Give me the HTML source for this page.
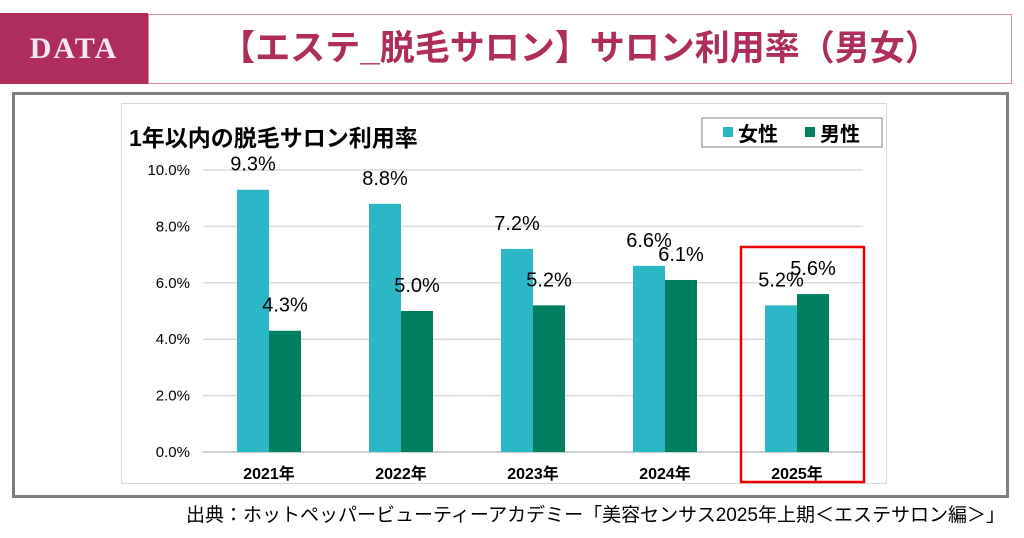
<!DOCTYPE html>
<html><head><meta charset="utf-8"><style>
body{margin:0;width:1024px;height:538px;background:#fff;position:relative;overflow:hidden;font-family:"Liberation Sans","Noto Sans CJK JP",sans-serif}
.abs{position:absolute}
</style></head><body>
<div class="abs" style="left:0;top:13px;width:148px;height:71px;background:#ae2d5c;color:#f6e8ee;font-family:'Liberation Serif',serif;font-size:30px;font-weight:bold;letter-spacing:2px;line-height:71px;text-align:center">DATA</div>
<div class="abs" style="left:148px;top:14px;width:864px;height:70px;border:1px solid #d98aa6;box-sizing:border-box;color:#ae2d5c;font-size:35px;font-weight:bold;line-height:68px;text-align:center">【エステ_脱毛サロン】サロン利用率（男女）</div>
<div class="abs" style="left:12px;top:92px;width:997px;height:406px;border:3px solid #7f7f7f;box-sizing:border-box"></div>
<div class="abs" style="left:121px;top:103px;width:766px;height:381px;border:1px solid #d9d9d9;box-sizing:border-box"></div>
<svg class="abs" style="left:0;top:0" width="1024" height="538">
<text x="129" y="146" font-size="23" font-weight="bold" fill="#000" font-family="Liberation Sans, Noto Sans CJK JP, sans-serif">1年以内の脱毛サロン利用率</text>
<g>
<rect x="702" y="118" width="180" height="29" fill="#fff" stroke="#7f7f7f"/>
<rect x="723" y="127" width="10" height="10" fill="#2bb7c6"/>
<text x="738" y="141" font-size="20" font-weight="bold" font-family="Liberation Sans, Noto Sans CJK JP, sans-serif">女性</text>
<rect x="805" y="127" width="10" height="10" fill="#008060"/>
<text x="820" y="141" font-size="20" font-weight="bold" font-family="Liberation Sans, Noto Sans CJK JP, sans-serif">男性</text>
</g>
<g id="grid"></g><g id="bars"></g>
<rect x="741" y="247" width="123" height="235" fill="none" stroke="#e00" stroke-width="2.5"/>
</svg>
<div class="abs" style="right:19px;top:500px;font-size:19px;color:#000;white-space:nowrap">出典：ホットペッパービューティーアカデミー「美容センサス2025年上期＜エステサロン編＞」</div>
<script>
const categories=["2021年","2022年","2023年","2024年","2025年"];
const female=[9.3,8.8,7.2,6.6,5.2];
const male=[4.3,5.0,5.2,6.1,5.6];
const ticks=[0,2,4,6,8,10];
const ns="http://www.w3.org/2000/svg";
const y=v=>452-v*28.2, x=i=>269+i*132;
function mk(t,a,p){const e=document.createElementNS(ns,t);for(const k in a)e.setAttribute(k,a[k]);p.appendChild(e);return e;}
const g=document.getElementById('grid'),b=document.getElementById('bars');
ticks.forEach(t=>{
 const l=mk('line',{x1:203,x2:863,y1:y(t),y2:y(t),stroke:t?'#d9d9d9':'#bfbfbf','stroke-width':1.5},g);
 
 
 const tx=mk('text',{x:190,y:y(t)+5,'text-anchor':'end','font-size':15},g);tx.textContent=t.toFixed(1)+'%';
 
 
});
categories.forEach((c,i)=>{
 const cx=x(i);
 [[female[i],'#2bb7c6',-32,'female'],[male[i],'#008060',0,'male']].forEach(([v,col,off,s])=>{
  const r=mk('rect',{x:cx+off,y:y(v),width:32,height:452-y(v),fill:col},b);
  
  
  const t=mk('text',{x:cx+off+16,y:y(v)-19,'text-anchor':'middle','font-size':20},b);t.textContent=v.toFixed(1)+'%';
  
  
 });
 const t=mk('text',{x:cx,y:479,'text-anchor':'middle','font-size':16,'font-weight':'bold','font-family':'Liberation Sans, Noto Sans CJK JP, sans-serif'},b);t.textContent=c;
 
 
});
</script>
</body></html>
